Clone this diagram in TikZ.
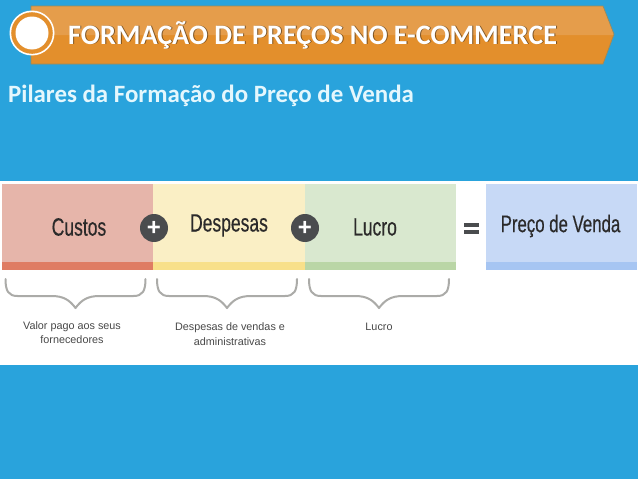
\documentclass[tikz,border=0pt]{standalone}
\usepackage{fontspec}
\setmainfont{Carlito}
\newfontfamily\narrowfont[FakeStretch=0.7,FakeBold=0.4]{Liberation Sans}
\newfontfamily\notefont{Liberation Sans}
\definecolor{bgblue}{HTML}{29A3DC}
\definecolor{hdrtop}{HTML}{E59D4B}
\definecolor{hdrbot}{HTML}{E38F2C}
\definecolor{hdredge}{HTML}{9A8A5C}
\definecolor{subtxt}{HTML}{E4F7FD}
\definecolor{cus}{HTML}{E6B5AA}
\definecolor{cusb}{HTML}{DF7C63}
\definecolor{des}{HTML}{FAEFC5}
\definecolor{desb}{HTML}{F8E08A}
\definecolor{luc}{HTML}{D9E8CF}
\definecolor{lucb}{HTML}{BAD6A6}
\definecolor{pre}{HTML}{C7D9F6}
\definecolor{preb}{HTML}{A6C5F2}
\definecolor{opgray}{HTML}{4A4C4E}
\definecolor{brgray}{HTML}{ABABA8}
\definecolor{txtdark}{HTML}{2B2A2A}
\definecolor{notetxt}{HTML}{484848}
\tikzset{
  bigword/.style={font=\narrowfont\fontsize{25}{28}\selectfont,text=txtdark,inner sep=0pt},
  note/.style={font=\notefont\fontsize{10.8}{14.5}\selectfont,text=notetxt,align=center,inner sep=0pt},
  opdisc/.style={circle,fill=opgray,minimum size=28pt,inner sep=0pt,text=white,font=\notefont\bfseries\fontsize{24}{24}\selectfont},
  titletext/.style={anchor=west,inner sep=0pt,font=\bfseries\fontsize{28.2}{32}\selectfont},
  bracepath/.style={draw=brgray,line width=2pt,line cap=round,line join=round}
}
\newcommand{\pricebrace}[1]{%
  \draw[bracepath,shift={(#1,0)}] (-70,279) .. controls (-70,291) and (-67,296) .. (-58,296)
    -- (-24,296) .. controls (-12,296) and (-6,300) .. (0,308)
    .. controls (6,300) and (12,296) .. (24,296) -- (58,296)
    .. controls (67,296) and (70,291) .. (70,279);}
\begin{document}
\begin{tikzpicture}[x=1pt,y=-1pt]
\useasboundingbox (0,0) rectangle (638,479);
\fill[bgblue] (0,0) rectangle (638,479);
% header
\fill[hdrbot] (31,35) -- (31,64) -- (603,64) -- (614,35) -- cycle;
\fill[hdrtop] (31,35) -- (31,6) -- (603,6) -- (614,35) -- cycle;
\draw[hdredge,line width=0.7pt,line join=round] (31,6) -- (603,6) -- (614,34) -- (603,64) -- (31,64) -- cycle;
\fill[white] (32,33) circle (22.5);
\fill[hdrbot] (32,33) circle (20.8);
\fill[white] (32,33) circle (16.5);
\node[titletext,text=black,opacity=0.45] (titleshadow) at (69,35.8) {FORMAÇÃO DE PREÇOS NO E-COMMERCE};
\node[titletext,text=white] (title) at (68,35) {FORMAÇÃO DE PREÇOS NO E-COMMERCE};
\node[anchor=west,inner sep=0pt,text=subtxt,font=\bfseries\fontsize{24.9}{28}\selectfont] (subtitle) at (8,95.5) {Pilares da Formação do Preço de Venda};
% white panel
\fill[white] (0,181) rectangle (638,365);
% bars
\fill[cus] (2,184) rectangle (153,262);
\fill[cusb] (2,262) rectangle (153,270);
\fill[des] (153,184) rectangle (305,262);
\fill[desb] (153,262) rectangle (305,270);
\fill[luc] (305,184) rectangle (456,262);
\fill[lucb] (305,262) rectangle (456,270);
\fill[pre] (486,184) rectangle (637,262);
\fill[preb] (486,262) rectangle (637,270);
\node[bigword] (custos) at (79,227) {Custos};
\node[bigword] (despesas) at (229,225.5) {Despesas};
\node[bigword] (lucro) at (375,227) {Lucro};
\node[bigword,font=\narrowfont\fontsize{24}{28}\selectfont] (preco) at (560.5,226) {Preço de Venda};
\node[opdisc] (plusa) at (154,228) {+};
\node[opdisc] (plusb) at (305,228) {+};
\fill[opgray] (464,223) rectangle (479,227);
\fill[opgray] (464,230) rectangle (479,234);
\pricebrace{75.5}
\pricebrace{227}
\pricebrace{379}
\node[note] (notea) at (72,332.5) {Valor pago aos seus\\fornecedores};
\node[note] (noteb) at (230,334) {Despesas de vendas e\\administrativas};
\node[note] (notec) at (379,327) {Lucro};
\end{tikzpicture}
\end{document}
